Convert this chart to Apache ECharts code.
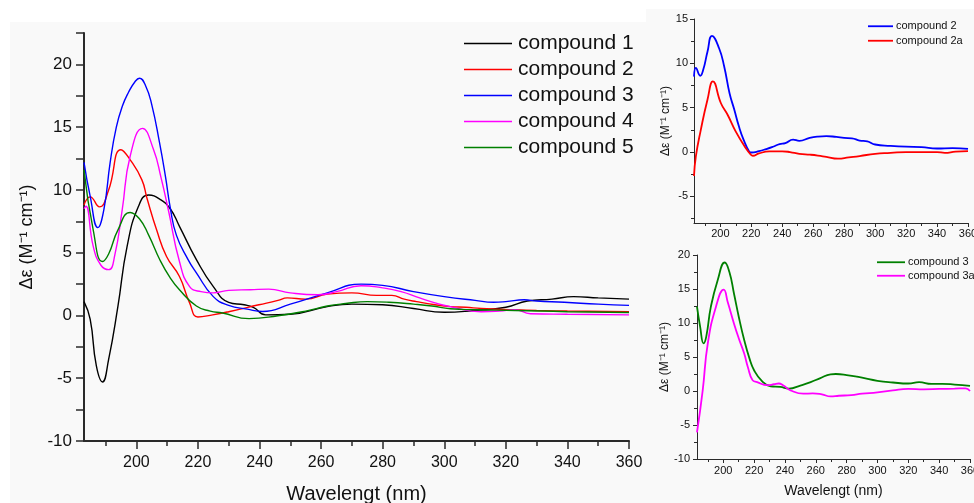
<!DOCTYPE html>
<html><head><meta charset="utf-8">
<script src="https://cdn.jsdelivr.net/npm/echarts@6/dist/echarts.min.js"></script>
<style>html,body{margin:0;padding:0;background:#fff}#c{width:974px;height:503px}</style>
</head><body><div id="c"></div>
<script>
// ---- Main panel data ----
const wl1 = [183,185,187,189,191,194,197,200.7,204,207.7,211,214,219.5,225,230,235,238,242,250,262,270,280,290,300,310,320,327,335,342,350,360];
const cd1 = [1.1,-0.3,-4.0,-5.3,-3.5,0.7,5.5,8.7,9.6,9.25,8.5,7.1,4.45,2.3,1.05,0.85,0.65,0.05,0.1,0.7,0.9,0.85,0.55,0.25,0.4,0.65,1.15,1.3,1.5,1.4,1.3];
const wl2 = [183,185,188,191,195,198,201.8,203.5,206.6,209.8,214,217.3,220,224.8,230,239.8,246,249,255,262,270,278,283,287,291,297,302,307,312,323,330,340,360];
const cd2 = [8.8,9.45,8.65,10.0,13.2,12.4,10.8,9.3,6.8,4.7,3.1,1.0,-0.12,0.05,0.3,0.85,1.2,1.4,1.3,1.7,1.8,1.6,1.6,1.3,1.1,0.85,0.7,0.65,0.55,0.45,0.4,0.35,0.3];
const wl3 = [183,185,187.5,189.5,191.5,193.5,195.5,197.5,199.5,201,203,205,207.5,209.5,211,213,216.8,219.5,225,230,236,241,250,262,273,280,290,300,310,316,320,326,330,339,350,360];
const cd3 = [12.2,9.5,7.0,8.5,12.2,15.0,16.7,17.8,18.6,18.9,18.3,16.8,13.8,11.0,8.6,6.4,4.45,3.4,1.5,0.8,0.5,0.32,0.9,1.8,2.5,2.4,1.9,1.5,1.2,1.05,1.1,1.25,1.15,1.05,0.9,0.8];
const wl4 = [183,183.6,186,188.5,191,193,195.4,198,202,205.6,208,210.4,214,217.3,221,225,230,237,243,250,259,265,273,280,286,292,297,302,312,318,323,328,340,360];
const cd4 = [8.5,8.7,5.5,4.0,3.65,4.8,8.4,12.7,14.9,13.2,11.0,8.4,4.3,2.3,1.9,1.8,2.0,2.05,2.1,1.8,1.65,1.9,2.37,2.2,1.9,1.4,1.0,0.7,0.3,0.35,0.45,0.14,0.1,0.05];
const wl5 = [183,186,189,191,194,198,201,204,207.7,211,214,219.5,224,228,236.6,246,255,262,268,275,282,290,296,302,310,323,340,360];
const cd5 = [11.6,6.8,4.3,4.9,6.8,8.2,7.7,6.4,4.4,3.0,2.05,0.75,0.35,0.2,-0.25,-0.02,0.35,0.75,0.95,1.1,1.05,0.9,0.75,0.53,0.45,0.4,0.3,0.24];
const mainNames = ['compound 1','compound 2','compound 3','compound 4','compound 5'];
const mainXTicks = [200,220,240,260,280,300,320,340,360];
const mainXMinor = [190,210,230,250,270,290,310,330,350];
const mainYTicks = [-10,-5,0,5,10,15,20];
const mainYMinor = [-7.5,-2.5,2.5,7.5,12.5,17.5,22.5];

// ---- Top-right panel data ----
const wlA = [183,184.2,187,189,191.7,194.6,199.2,202.5,206,209,212,215,218.6,220,225,229.7,234,238.3,242,247,251,257.7,263,268.5,275,280,285,290,295,300,310,320,330,340,350,360];
const cdA = [8.5,9.5,8.6,9.3,11.3,13.1,11.7,9.65,6.6,4.8,2.9,1.4,0.07,-0.05,0.1,0.34,0.6,0.9,1.0,1.4,1.27,1.6,1.75,1.8,1.7,1.6,1.55,1.3,1.2,0.85,0.7,0.6,0.55,0.4,0.45,0.35];
const wlB = [183,184.2,187.4,191.7,195.2,200.4,204.7,210,216.4,219.7,221,225,231.8,240,245,251,258,263,268.5,276,283,290,300,310,320,330,340,345,352,360];
const cdB = [-2.7,-0.5,2.5,5.9,7.96,5.5,4.2,2.3,0.45,-0.3,-0.42,-0.15,0.07,0.08,0.0,-0.2,-0.3,-0.4,-0.55,-0.75,-0.6,-0.45,-0.2,-0.1,0.0,0.0,0.0,-0.1,0.05,0.1];
const trNames = ['compound 2','compound 2a'];
const trXTicks = [200,220,240,260,280,300,320,340,360];
const trYTicks = [-5,0,5,10,15];
const trYMinor = [-7.5,-2.5,2.5,7.5,12.5];

// ---- Bottom-right panel data ----
const wlC = [183,185,187.3,189,192,196.4,201,204,207,210,213.6,217,220,225,230.8,237,242.6,250,256.7,263,269.6,273,280,290,300,310,320,327,335,342,350,360];
const cdC = [12.4,9.5,7.0,8.0,12.4,16.3,18.9,17.5,14.3,11.0,7.5,4.8,3.05,1.5,0.7,0.6,0.35,0.8,1.3,1.9,2.45,2.5,2.35,1.95,1.5,1.25,1.1,1.3,1.05,1.05,0.95,0.75];
const wlD = [183,186.7,190,195.3,200.3,203,207,210,213.6,216,219,222,228.7,233,236,239,243.7,252,258,264,269.6,275,283,290,300,310,320,330,340,350,357,360];
const cdD = [-6.1,0.1,7.0,12.4,14.9,13.0,9.9,7.8,5.5,3.5,1.6,1.3,0.85,1.0,1.1,0.8,0.1,-0.4,-0.35,-0.5,-0.8,-0.7,-0.6,-0.4,-0.2,0.1,0.3,0.25,0.3,0.35,0.4,0.0];
const brNames = ['compound 3','compound 3a'];
const brXTicks = [200,220,240,260,280,300,320,340,360];
const brYTicks = [-10,-5,0,5,10,15,20];
const brYMinor = [-7.5,-2.5,2.5,7.5,12.5,17.5];
const xMinorAll = [190,210,230,250,270,290,310,330,350];

const FONT = '"Liberation Sans", Arial, sans-serif';
const AX = '#2a2a2a';
function pairs(x, y){ return x.map((v,i)=>[v,y[i]]); }

function xAxes(grid, min, max, ticks, minor, o){
  return [{
    type:'value', gridIndex:grid, min:min, max:max, position:'bottom',
    axisLine:{show:true, onZero:false, lineStyle:{color:AX, width:o.lw}},
    axisTick:{show:true, customValues:ticks, length:o.tl, lineStyle:{color:AX, width:o.tw}},
    axisLabel:{customValues:ticks, color:'#111', fontFamily:FONT, fontSize:o.fs, margin:o.m},
    splitLine:{show:false},
    name:o.name||'', nameLocation:'middle', nameGap:o.ng||0,
    nameTextStyle:{color:'#111', fontFamily:FONT, fontSize:o.nfs||12}
  },{
    type:'value', gridIndex:grid, min:min, max:max, position:'bottom',
    axisLine:{show:false, onZero:false}, axisLabel:{show:false}, splitLine:{show:false},
    axisTick:{show:true, customValues:minor, length:o.mtl, lineStyle:{color:AX, width:o.tw}}
  }];
}
function yAxes(grid, min, max, ticks, minor, o){
  return [{
    type:'value', gridIndex:grid, min:min, max:max, position:'left',
    axisLine:{show:true, onZero:false, lineStyle:{color:AX, width:o.lw}},
    axisTick:{show:true, customValues:ticks, length:o.tl, lineStyle:{color:AX, width:o.tw}},
    axisLabel:{customValues:ticks, color:'#111', fontFamily:FONT, fontSize:o.fs, margin:o.m},
    splitLine:{show:false},
    name:o.name, nameLocation:'middle', nameGap:o.ng, nameRotate:90,
    nameTextStyle:{color:'#111', fontFamily:FONT, fontSize:o.nfs}
  },{
    type:'value', gridIndex:grid, min:min, max:max, position:'left',
    axisLine:{show:false, onZero:false}, axisLabel:{show:false}, splitLine:{show:false},
    axisTick:{show:true, customValues:minor, length:o.mtl, lineStyle:{color:AX, width:o.tw}}
  }];
}

const xs = [].concat(
  xAxes(0,183,360,mainXTicks,mainXMinor,{lw:2,tl:8,mtl:5,tw:1.5,fs:16,m:14,name:'Wavelengt (nm)',ng:43,nfs:20}),
  xAxes(1,183,360,trXTicks,xMinorAll,{lw:1,tl:4,mtl:3,tw:1,fs:11,m:5}),
  xAxes(2,183,360,brXTicks,xMinorAll,{lw:1,tl:4,mtl:3,tw:1,fs:11,m:6,name:'Wavelengt (nm)',ng:25,nfs:14})
);
const ys = [].concat(
  yAxes(0,-10,22.5,mainYTicks,mainYMinor,{lw:2,tl:8,mtl:8,tw:1.5,fs:17,m:12,name:'Δε (M⁻¹ cm⁻¹)',ng:46,nfs:18}),
  yAxes(1,-8,15,trYTicks,trYMinor,{lw:1,tl:4,mtl:3,tw:1,fs:11,m:6,name:'Δε (M⁻¹ cm⁻¹)',ng:22,nfs:12}),
  yAxes(2,-10,20,brYTicks,brYMinor,{lw:1,tl:4,mtl:3,tw:1,fs:11,m:7,name:'Δε (M⁻¹ cm⁻¹)',ng:18,nfs:12})
);

function line(name, data, color, xi, yi, w){
  return {type:'line', name:name, data:data, xAxisIndex:xi, yAxisIndex:yi, smooth:0.5,
    symbol:'none', lineStyle:{color:color, width:w}, itemStyle:{color:color}, animation:false, z:3};
}
const mainColors = ['#000000','#ff0000','#0000ff','#ff00ff','#008000'];
const trColors = ['#0000ff','#ff0000'];
const brColors = ['#008000','#ff00ff'];
const mainData = [pairs(wl1,cd1),pairs(wl2,cd2),pairs(wl3,cd3),pairs(wl4,cd4),pairs(wl5,cd5)];
const series = mainData.map((d,i)=>line(mainNames[i], d, mainColors[i], 0, 0, 1.4));
series.push(line(trNames[0], pairs(wlA,cdA), trColors[0], 2, 2, 1.8));
series.push(line(trNames[1], pairs(wlB,cdB), trColors[1], 2, 2, 1.8));
series.push(line(brNames[0], pairs(wlC,cdC), brColors[0], 4, 4, 1.8));
series.push(line(brNames[1], pairs(wlD,cdD), brColors[1], 4, 4, 1.8));

function legendData(names, colors){
  return names.map((n,i)=>({name:n, itemStyle:{color:colors[i]}}));
}

const chart = echarts.init(document.getElementById('c'), null, {renderer:'canvas'});
chart.setOption({
  backgroundColor:'#f9f9f9',
  animation:false,
  graphic:[
    {type:'rect', shape:{x:0,y:0,width:974,height:9}, style:{fill:'#fff'}, z:-10, silent:true},
    {type:'rect', shape:{x:0,y:0,width:646,height:22}, style:{fill:'#fff'}, z:-10, silent:true},
    {type:'rect', shape:{x:0,y:0,width:10,height:503}, style:{fill:'#fff'}, z:-10, silent:true}
  ],
  grid:[
    {left:84, top:33, right:345, bottom:62, outerBoundsMode:'none', containLabel:false},
    {left:694, top:19, right:6, bottom:280, outerBoundsMode:'none', containLabel:false},
    {left:697, top:255, right:4, bottom:44, outerBoundsMode:'none', containLabel:false}
  ],
  xAxis: xs,
  yAxis: ys,
  legend:[
    {data:legendData(mainNames, mainColors), orient:'vertical', left:464, top:32, padding:0, icon:'rect', itemWidth:48, itemHeight:1.5, itemGap:3,
     textStyle:{fontFamily:FONT, fontSize:21, lineHeight:23, color:'#111', padding:[0,0,0,1]}},
    {data:legendData(trNames, trColors), orient:'vertical', left:868, top:20, padding:0, icon:'rect', itemWidth:25, itemHeight:1.8, itemGap:2,
     textStyle:{fontFamily:FONT, fontSize:11, lineHeight:12.5, color:'#111', padding:[0,0,0,-2]}},
    {data:legendData(brNames, brColors), orient:'vertical', left:877, top:256, padding:0, icon:'rect', itemWidth:28, itemHeight:1.8, itemGap:1,
     textStyle:{fontFamily:FONT, fontSize:11, lineHeight:12.5, color:'#111', padding:[0,0,0,-2]}}
  ],
  series: series
});
</script></body></html>
